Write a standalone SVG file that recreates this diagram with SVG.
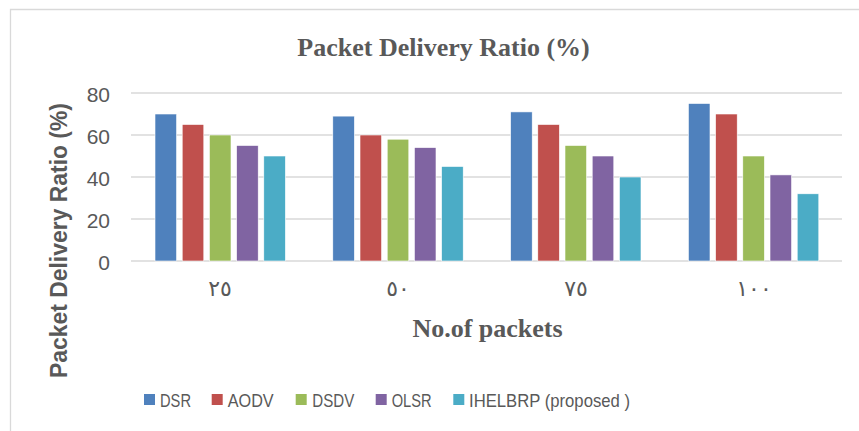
<svg xmlns="http://www.w3.org/2000/svg" width="859" height="431" viewBox="0 0 859 431">
<style>
.grid{stroke:#D9D9D9;stroke-width:1.3}
.bar{stroke:#fff;stroke-width:0.6}
.s1{fill:#4F81BD}.s2{fill:#C0504D}.s3{fill:#9BBB59}.s4{fill:#8064A2}.s5{fill:#4BACC6}
.tick{font-family:"Liberation Sans",Arial,sans-serif;font-size:21px;fill:#595959;text-anchor:end}
.cat{font-family:"DejaVu Sans","Noto Sans",sans-serif;font-size:22px;fill:#595959;text-anchor:middle}
.ttl{font-family:"Liberation Serif","Times New Roman",serif;font-weight:bold;font-size:26px;fill:#595959;text-anchor:middle}
.ylab{font-family:"Liberation Sans",Arial,sans-serif;font-weight:bold;font-size:23px;fill:#595959;text-anchor:middle}
.leg{font-family:"Liberation Sans",Arial,sans-serif;font-size:18.5px;fill:#595959}
</style>
<rect x="0" y="0" width="859" height="431" fill="#fff"/>
<path d="M10.5,431 V9.5 H859" fill="none" stroke="#D9D9D9" stroke-width="1.3"/>
<text class="ttl" x="443.5" y="56">Packet Delivery Ratio (%)</text>
<g id="gridlines">
<line class="grid" x1="131" y1="93" x2="842" y2="93"/>
<line class="grid" x1="131" y1="135" x2="842" y2="135"/>
<line class="grid" x1="131" y1="177" x2="842" y2="177"/>
<line class="grid" x1="131" y1="219" x2="842" y2="219"/>
<line class="grid" x1="131" y1="261" x2="842" y2="261"/>
</g>
<g id="y-axis">
<text class="tick" x="110" y="101.5">80</text>
<text class="tick" x="110" y="143.5">60</text>
<text class="tick" x="110" y="185.5">40</text>
<text class="tick" x="110" y="227.5">20</text>
<text class="tick" x="110" y="269.5">0</text>
<text class="ylab" transform="translate(67,240.5) rotate(-90)" textLength="275" lengthAdjust="spacingAndGlyphs">Packet Delivery Ratio (%)</text>
</g>
<g id="group-25">
<rect class="bar s1" x="155" y="114" width="21.6" height="147"/>
<rect class="bar s2" x="182.2" y="124.5" width="21.6" height="136.5"/>
<rect class="bar s3" x="209.4" y="135" width="21.6" height="126"/>
<rect class="bar s4" x="236.6" y="145.5" width="21.6" height="115.5"/>
<rect class="bar s5" x="263.8" y="156" width="21.6" height="105"/>
</g>
<g id="group-50">
<rect class="bar s1" x="332.8" y="116.1" width="21.6" height="144.9"/>
<rect class="bar s2" x="360" y="135" width="21.6" height="126"/>
<rect class="bar s3" x="387.2" y="139.2" width="21.6" height="121.8"/>
<rect class="bar s4" x="414.4" y="147.6" width="21.6" height="113.4"/>
<rect class="bar s5" x="441.6" y="166.5" width="21.6" height="94.5"/>
</g>
<g id="group-75">
<rect class="bar s1" x="510.6" y="111.9" width="21.6" height="149.1"/>
<rect class="bar s2" x="537.8" y="124.5" width="21.6" height="136.5"/>
<rect class="bar s3" x="565" y="145.5" width="21.6" height="115.5"/>
<rect class="bar s4" x="592.2" y="156" width="21.6" height="105"/>
<rect class="bar s5" x="619.4" y="177" width="21.6" height="84"/>
</g>
<g id="group-100">
<rect class="bar s1" x="688.4" y="103.5" width="21.6" height="157.5"/>
<rect class="bar s2" x="715.6" y="114" width="21.6" height="147"/>
<rect class="bar s3" x="742.8" y="156" width="21.6" height="105"/>
<rect class="bar s4" x="770" y="174.9" width="21.6" height="86.1"/>
<rect class="bar s5" x="797.2" y="193.8" width="21.6" height="67.2"/>
</g>
<g id="x-axis">
<text class="cat" x="220" y="296">٢٥</text>
<text class="cat" x="398" y="296">٥٠</text>
<text class="cat" x="576" y="296">٧٥</text>
<text class="cat" x="754" y="296">١٠٠</text>
<text class="ttl" x="487.5" y="337">No.of packets</text>
</g>
<g id="legend">
<rect class="s1" x="144" y="394" width="11" height="11"/>
<text class="leg" x="160" y="406.5" textLength="31" lengthAdjust="spacingAndGlyphs">DSR</text>
<rect class="s2" x="211.7" y="394" width="11" height="11"/>
<text class="leg" x="227.7" y="406.5" textLength="46" lengthAdjust="spacingAndGlyphs">AODV</text>
<rect class="s3" x="295.7" y="394" width="11" height="11"/>
<text class="leg" x="312.3" y="406.5" textLength="42" lengthAdjust="spacingAndGlyphs">DSDV</text>
<rect class="s4" x="375.7" y="394" width="11" height="11"/>
<text class="leg" x="391.7" y="406.5" textLength="40" lengthAdjust="spacingAndGlyphs">OLSR</text>
<rect class="s5" x="453.3" y="394" width="11" height="11"/>
<text class="leg" x="469" y="406.5" textLength="161" lengthAdjust="spacingAndGlyphs">IHELBRP (proposed )</text>
</g>
</svg>
